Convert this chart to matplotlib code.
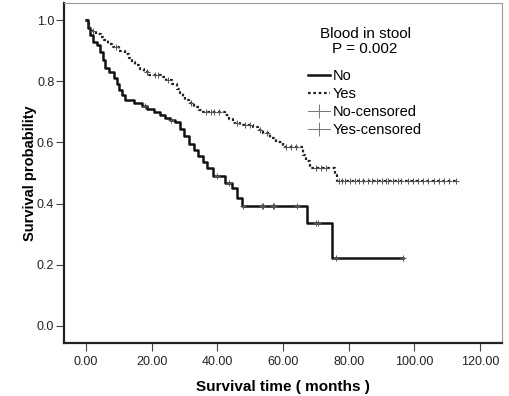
import matplotlib
matplotlib.use("Agg")
import matplotlib.pyplot as plt
from matplotlib.lines import Line2D
from matplotlib.ticker import FormatStrFormatter

plt.rcParams["font.family"] = ["Liberation Sans", "DejaVu Sans"]

# Kaplan-Meier step data (time in months, survival probability)
times_no = [0, 0.6, 1.3, 2.0, 3.4, 4.4, 5.2, 5.9, 7.0, 8.4, 9.3, 10.2, 11.0, 12.0,
            14.5, 17.0, 18.5, 20.6, 22.5, 24.0, 25.5, 27.1, 28.6, 30.0, 31.4, 32.8,
            34.2, 35.5, 36.8, 38.8, 42.3, 44.4, 45.9, 47.4, 67.4, 74.8, 96.4]
surv_no = [1.0, 0.975, 0.95, 0.93, 0.92, 0.895, 0.87, 0.845, 0.83, 0.81, 0.79, 0.77,
           0.755, 0.74, 0.73, 0.72, 0.71, 0.70, 0.69, 0.68, 0.675, 0.668, 0.645, 0.62,
           0.595, 0.575, 0.555, 0.535, 0.515, 0.49, 0.466, 0.45, 0.417, 0.392, 0.338,
           0.223, 0.223]
cens_no_t = [18.0, 26.0, 40.0, 43.5, 47.9, 53.5, 54.0, 56.9, 57.3, 64.2, 70.0, 70.6,
             76.1, 96.4]

times_yes = [0, 0.8, 1.3, 3.0, 4.5, 5.5, 6.8, 7.9, 10.0, 12.0, 13.0, 14.0, 15.0, 16.5,
             17.8, 19.1, 23.1, 24.5, 26.2, 27.8, 28.6, 29.4, 30.2, 31.5, 33.0, 34.5,
             35.7, 42.3, 43.5, 44.9, 47.0, 51.0, 52.5, 54.0, 56.0, 58.0, 60.1, 66.2,
             67.0, 68.2, 75.8, 76.5, 112.6]
surv_yes = [1.0, 0.985, 0.966, 0.955, 0.945, 0.935, 0.922, 0.912, 0.90, 0.89, 0.875,
            0.862, 0.852, 0.84, 0.83, 0.819, 0.814, 0.803, 0.79, 0.775, 0.762, 0.75,
            0.739, 0.728, 0.716, 0.705, 0.70, 0.69, 0.676, 0.662, 0.657, 0.651, 0.64,
            0.63, 0.615, 0.60, 0.586, 0.56, 0.54, 0.515, 0.495, 0.474, 0.474]
cens_yes_t = [2.0, 9.0, 18.5, 21.0, 22.0, 25.0, 32.0, 36.5, 38.0, 39.0, 40.5, 46.0,
              48.5, 50.0, 53.0, 55.0, 61.0, 62.5, 64.0, 70.0, 71.5, 73.0, 77.0, 78.0,
              79.0, 80.5, 82.0, 83.0, 84.5, 86.0, 87.0, 88.5, 90.0, 91.5, 92.0, 93.5,
              95.0, 96.0, 98.0, 99.5, 101.0, 102.5, 104.0, 106.0, 107.5, 109.0, 110.5,
              112.6]


def surv_at(ts, ss, t):
    # step-post lookup of survival value at time t
    val = ss[0]
    for ti, si in zip(ts, ss):
        if ti <= t:
            val = si
    return val


fig = plt.figure(figsize=(5.09, 3.96), dpi=100)
ax = fig.add_axes([0.1257, 0.1346, 0.86, 0.8578])

ax.plot(times_no, surv_no, drawstyle="steps-post", color="#111111", lw=1.8)
ax.plot(times_yes, surv_yes, drawstyle="steps-post", color="#222222", lw=1.6,
        linestyle=(0, (1.2, 1.2)))

ax.plot(cens_no_t, [surv_at(times_no, surv_no, t) for t in cens_no_t],
        linestyle="none", marker="+", markersize=4, mew=0.7, color="#555555")
ax.plot(cens_yes_t, [surv_at(times_yes, surv_yes, t) for t in cens_yes_t],
        linestyle="none", marker="+", markersize=4, mew=0.7, color="#555555")

ax.set_xlim(-6.7, 126.6)
ax.set_ylim(-0.055, 1.056)
ax.set_xticks([0, 20, 40, 60, 80, 100, 120])
ax.set_yticks([0.0, 0.2, 0.4, 0.6, 0.8, 1.0])
ax.xaxis.set_major_formatter(FormatStrFormatter("%.2f"))
ax.yaxis.set_major_formatter(FormatStrFormatter("%.1f"))
ax.tick_params(direction="out", length=6, width=0.8, color="#444444",
               labelsize=9, labelcolor="#222222")
ax.tick_params(axis="y", pad=1.0)

ax.spines["left"].set_linewidth(1.6)
ax.spines["bottom"].set_linewidth(1.6)
ax.spines["left"].set_color("#222222")
ax.spines["bottom"].set_color("#222222")
ax.spines["top"].set_color("#999999")
ax.spines["right"].set_color("#999999")
ax.spines["top"].set_linewidth(0.8)
ax.spines["right"].set_linewidth(0.8)

ax.set_xlabel("Survival time ( months )", fontsize=11, fontweight="bold", labelpad=9)
ax.set_ylabel("Survival probability", fontsize=10.5, fontweight="bold", labelpad=0)

# legend title drawn as text, legend entries below it
ax.text(0.688, 0.928, "Blood in stool\nP = 0.002", transform=ax.transAxes,
        ha="center", va="top", fontsize=11, linespacing=1.05, multialignment="center")

handles = [
    Line2D([], [], color="#111111", lw=1.8),
    Line2D([], [], color="#222222", lw=1.6, linestyle=(0, (1.2, 1.2))),
    Line2D([], [], color="#777777", lw=0.7, marker="+", markersize=10, mew=0.7),
    Line2D([], [], color="#777777", lw=0.7, marker="+", markersize=10, mew=0.7),
]
labels = ["No", "Yes", "No-censored", "Yes-censored"]
ax.legend(handles, labels, loc="upper left", bbox_to_anchor=(0.558, 0.805),
          frameon=False, fontsize=10.5, handlelength=1.5, handletextpad=0.2,
          labelspacing=0.28, borderaxespad=0, borderpad=0)

fig.savefig("out.png", dpi=100)
